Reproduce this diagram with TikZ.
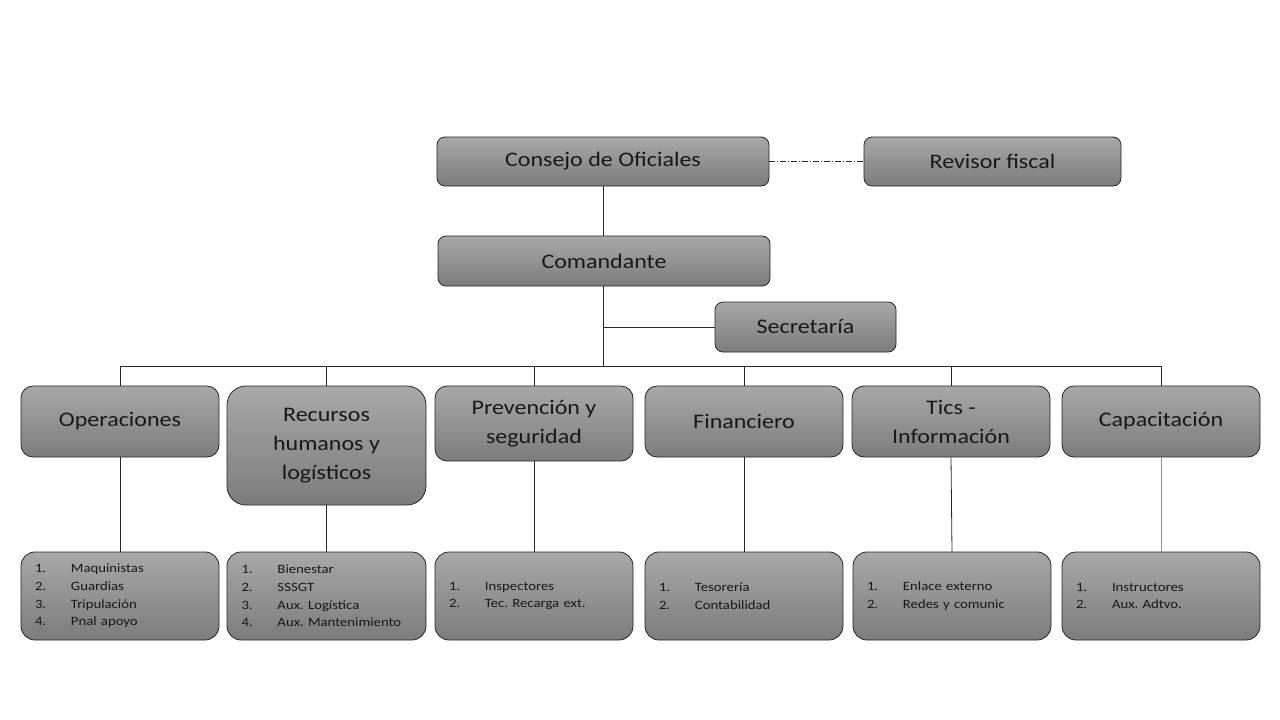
\documentclass[tikz,border=0pt]{standalone}
\usepackage{fontspec}
\setmainfont[FakeStretch=1.16]{Carlito}
\usepackage{xcolor}
\usetikzlibrary{positioning}

\definecolor{boxtop}{HTML}{A8A8A8}
\definecolor{boxbot}{HTML}{7C7C7C}
\definecolor{linkblue}{HTML}{6A9AC4}
\newcommand{\itm}[2]{\makebox[36pt][l]{#1}#2}
\frenchspacing

\begin{document}
\begin{tikzpicture}[
  x=1pt, y=-1pt,
  box/.style={draw=black!85, line width=0.8pt, top color=boxtop, bottom color=boxbot,
              align=center, inner sep=0pt, text=black!90,
              font=\fontsize{20.7}{29}\selectfont},
  head/.style={box, minimum width=198pt, minimum height=71pt, rounded corners=12pt},
  lst/.style={box, minimum width=198pt, minimum height=88pt, rounded corners=14pt,
              align=left, text width=170pt, inner xsep=14pt,
              font=\fontsize{12.7}{17.7}\selectfont},
  link/.style={draw=black!85, line width=0.8pt}
]
\useasboundingbox (0,0) rectangle (1280,720);

% top of the chart
\node[box, rounded corners=8pt, minimum width=332pt, minimum height=49pt] (consejo) at (603,161.5) {Consejo de Oficiales};
\node[box, rounded corners=8pt, minimum width=257pt, minimum height=49pt] (revisor) at (992.5,161.5) {Revisor fiscal};
\node[box, rounded corners=8pt, minimum width=332pt, minimum height=50pt] (comandante) at (604,261) {Comandante};
\node[box, rounded corners=8pt, minimum width=181pt, minimum height=50pt] (secretaria) at (805.5,327) {Secretaría};
\coordinate (bar) at (603,366);

% areas
\node[head] (op) at (120,421.5) {Operaciones};
\node[head, minimum width=199pt, minimum height=119pt, rounded corners=19pt] (rh) at (326.5,445.5) {Recursos\\ humanos y\\ logísticos};
\node[head, minimum height=75pt] (prev) at (534,423.5) {Prevención y\\ seguridad};
\node[head] (fin) at (744,421.5) {Financiero};
\node[head] (tics) at (951,421.5) {Tics -\\ Información};
\node[head] (cap) at (1161,421.5) {Capacitación};

% staff lists
\node[lst] (opl) at (120,596) {\itm{1.}{Maquinistas}\\ \itm{2.}{Guardias}\\ \itm{3.}{Tripulación}\\ \itm{4.}{Pnal apoyo}};
\node[lst, minimum width=199pt] (rhl) at (326.5,596) {\itm{1.}{Bienestar}\\ \itm{2.}{SSSGT}\\ \itm{3.}{Aux. Logística}\\ \itm{4.}{Aux. Mantenimiento}};
\node[lst] (prevl) at (534,596) {\itm{1.}{Inspectores}\\ \itm{2.}{Tec. Recarga ext.}};
\node[lst] (finl) at (744,596) {\itm{1.}{Tesorería}\\ \itm{2.}{Contabilidad}};
\node[lst] (ticsl) at (952,596) {\itm{1.}{Enlace externo}\\ \itm{2.}{Redes y comunic}};
\node[lst] (capl) at (1161,596) {\itm{1.}{Instructores}\\ \itm{2.}{Aux. Adtvo.}};

% connectors
\draw[link, dash pattern=on 6pt off 2pt on 1pt off 2pt] (consejo) -- (revisor);
\draw[link] (consejo.south) -- (consejo.south |- comandante.north);
\draw[link] (comandante.south -| bar) -- (bar);
\draw[link] (secretaria.west) -- (secretaria.west -| bar);
\draw[link] (op.north |- bar) -- (cap.north |- bar);
\foreach \n in {op,rh,prev,fin,tics,cap}
  \draw[link] (\n.north |- bar) -- (\n.north);
\draw[link] (op) -- (opl);
\draw[link] (rh) -- (rhl);
\draw[link] (prev) -- (prevl);
\draw[link] (fin) -- (finl);
\draw[link] (tics.south) -- (ticsl.north);
\draw[link, draw=linkblue] (cap) -- (capl);
\end{tikzpicture}
\end{document}
